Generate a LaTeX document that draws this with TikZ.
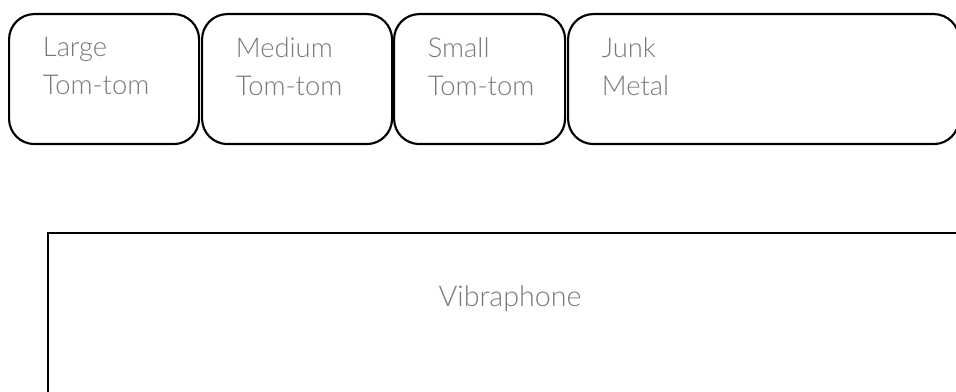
\documentclass[tikz,border=0pt]{standalone}
\usepackage{fontspec}
\setmainfont{Lato}[UprightFont={* Light}]
\usepackage{tikz}
\usetikzlibrary{positioning}
\definecolor{FrameColor}{RGB}{0,0,0}
\definecolor{LabelColor}{RGB}{120,120,120}
\tikzstyle{drum} = [draw=FrameColor, line width=1.6pt, rounded corners=19pt, anchor=north west, minimum height=97.5pt, inner sep=0pt]
\tikzstyle{drumlabel} = [LabelColor, anchor=north west, align=left, inner sep=0pt, font=\fontsize{20.5}{28.5}\selectfont]
\tikzstyle{stage} = [draw=FrameColor, line width=1.6pt, anchor=north west, minimum width=693pt, minimum height=150pt, inner sep=0pt]

\begin{document}
\begin{tikzpicture}[x=0.75pt, y=-0.75pt]
    \clip (0,0) rectangle (956,392);
    \useasboundingbox (0,0) rectangle (956,392);
    % Drums and metal along the top
    \foreach \name/\x/\w/\txt in {large/8/190/{Large\\Tom-tom}, medium/201/190/{Medium\\Tom-tom}, small/393/171/{Small\\Tom-tom}, junk/567/391/{Junk\\Metal}} {
            \node[drum, minimum width=\w*0.75pt] (\name) at (\x,13) {};
            \node[drumlabel, below right=18pt and 26pt of \name.north west] (\name label) {\txt};
        }
    % Vibraphone underneath
    \node[stage] (vibes) at (47,232) {};
    \node[drumlabel, anchor=north, below=40pt of vibes.north, font=\fontsize{21.5}{28.5}\selectfont] (vibeslabel) {Vibraphone};
\end{tikzpicture}
\end{document}
